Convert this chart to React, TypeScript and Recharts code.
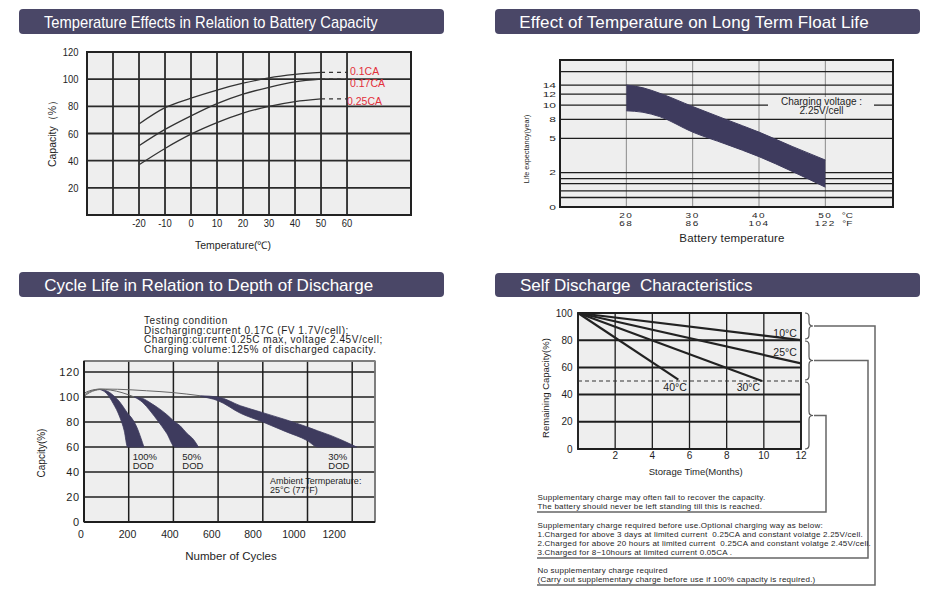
import React from "react";
import {
  ComposedChart,
  Line,
  Area,
  XAxis,
  YAxis,
  CartesianGrid,
  ReferenceArea,
  ReferenceLine,
} from "recharts";

const FONT = '"Liberation Sans", Arial, Helvetica, sans-serif';
const TITLE_BG = "#4a4767";
const BAND = "#3e3b5e";
const PLOT_BG = "#eeeeee";
const INK = "#1e1e1e";
const RED = "#e3303b";

// ---- Temperature effects in relation to battery capacity
const TEMP_C = [-20, -10, 0, 10, 20, 30, 40, 50];
const CAP_01CA = [67, 79, 86, 92, 97, 101, 103.5, 105];
const CAP_017CA = [51, 63, 73, 82, 89, 94, 98, 100];
const CAP_025CA = [37, 49, 59.5, 68, 75, 80, 83.5, 85.5];
const RATE_NAMES = ["0.1CA", "0.17CA", "0.25CA"];
const RATE_DASH_TO = 60;
const TEMP_TICKS = [-30, -20, -10, 0, 10, 20, 30, 40, 50, 60];
const CAP_TICKS = [0, 20, 40, 60, 80, 100, 120];

// ---- Effect of temperature on float life (printed y scale is not linear)
const FLOAT_TEMP_C = [20, 22.5, 25, 30, 35, 40, 45, 50];
const LIFE_UPPER = [14, 13.4, 12.2, 9.8, 8.0, 6.0, 4.3, 3.1];
const LIFE_LOWER = [9.2, 9.0, 8.4, 6.0, 4.5, 3.4, 2.1, 1.15];
const FLOAT_TICKS_C = [20, 30, 40, 50];
const FLOAT_TICKS_F = ["68", "86", "104", "122"];
const LIFE_LABELS = [0, 2, 5, 8, 10, 12, 14];
const LIFE_MINOR = [0.55, 0.93, 1.36, 1.65, 16];
const LIFE_KNOTS = [0, 2, 5, 8, 10, 12, 14, 16, 18];
const LIFE_KNOT_POS = [0, 34.4, 68.4, 87.4, 101.7, 112.7, 121.7, 135, 148.3];
const LIFE_TOP = 146.7;
const CHARGE_NOTE = ["Charging voltage :", "2.25V/cell"];

// ---- Cycle life vs depth of discharge
const DOD100_CYCLES = [72, 100, 130, 160, 180, 195, 210, 236, 255, 268];
const DOD100_LOW = [106, 103, 95, 84, 73, 60, 60, 60, 60, 60];
const DOD100_HIGH = [106, 105, 101.5, 96, 91, 87, 84, 76, 67, 60];
const DOD50_CYCLES = [225, 260, 300, 330, 370, 407, 430, 460, 490, 512];
const DOD50_LOW = [100, 96, 88, 81, 71, 60, 60, 60, 60, 60];
const DOD50_HIGH = [100, 99, 95, 91.5, 86, 80, 77, 71, 66, 60];
const DOD30_CYCLES = [520, 600, 700, 800, 900, 1000, 1045, 1100, 1160, 1220];
const DOD30_LOW = [100.5, 97, 87, 80, 72.5, 65, 60, 60, 60, 60];
const DOD30_HIGH = [101, 100, 93, 87.5, 82, 76, 73, 69.5, 65, 60];
const LEAD100_CYCLES = [0, 25, 50, 72];
const LEAD100_CAP = [100.5, 103.5, 105.3, 106];
const LEAD50_CYCLES = [0, 25, 50, 72, 120, 170, 225];
const LEAD50_CAP = [101.5, 104.3, 105.7, 106.2, 105.5, 103.5, 100];
const LEAD30_CYCLES = [0, 25, 50, 72, 150, 280, 400, 520];
const LEAD30_CAP = [103, 105, 106, 106.4, 106.2, 105, 103.5, 101];
const CYCLE_TICKS = [0, 200, 400, 600, 800, 1000, 1200];
const CYCLE_CAP_TICKS = [0, 20, 40, 60, 80, 100, 120];
const DOD_NAMES = ["100%", "50%", "30%"];
const TEST_NOTES = [
  "Testing condition",
  "Discharging:current 0.17C (FV 1.7V/cell);",
  "Charging:current 0.25C max, voltage 2.45V/cell;",
  "Charging volume:125% of discharged capacity.",
];

// ---- Self discharge
const SD_NAMES = ["10°C", "25°C", "30°C", "40°C"];
const SD_START = 100;
const SD_END_MONTH = [12, 12, 9.9, 5.4];
const SD_END_CAP = [80, 63, 50, 51];
const MONTH_TICKS = [0, 2, 4, 6, 8, 10, 12];
const SD_CAP_TICKS = [0, 20, 40, 60, 80, 100];
const NOTE_A = [
  "Supplementary charge may often fail to recover the capacity.",
  "The battery should never be left standing till this is reached.",
];
const NOTE_B = [
  "Supplementary charge required before use.Optional charging way as below:",
  "1.Charged for above 3 days at limited current  0.25CA and constant volatge 2.25V/cell.",
  "2.Charged for above 20 hours at limited current  0.25CA and constant volatge 2.45V/cell.",
  "3.Charged for 8~10hours at limited current 0.05CA .",
];
const NOTE_C = [
  "No supplementary charge required",
  "(Carry out supplementary charge before use if 100% capacity is required.)",
];

function lifeToAxis(years: number) {
  for (let i = 1; i < LIFE_KNOTS.length; i++) {
    if (years <= LIFE_KNOTS[i]) {
      const t = (years - LIFE_KNOTS[i - 1]) / (LIFE_KNOTS[i] - LIFE_KNOTS[i - 1]);
      return LIFE_KNOT_POS[i - 1] + t * (LIFE_KNOT_POS[i] - LIFE_KNOT_POS[i - 1]);
    }
  }
  return LIFE_KNOT_POS[LIFE_KNOT_POS.length - 1];
}

const points = (xs: number[], ys: number[]) => xs.map((x, i) => ({ x, y: ys[i] }));
const rangePoints = (xs: number[], lo: number[], hi: number[]) =>
  xs.map((x, i) => ({ x, r: [lo[i], hi[i]] }));

type TickOpts = {
  x?: number;
  y?: number;
  payload?: { value: number };
  textAnchor?: string;
  side?: "x" | "y";
  size?: number;
  squeeze?: number;
  squeezeY?: number;
  spacing?: number;
  fmt?: (v: number) => string;
  shift?: (v: number) => number;
};

function AxisTick({
  x = 0,
  y = 0,
  payload,
  textAnchor = "middle",
  side = "x",
  size = 11,
  squeeze = 1,
  squeezeY = 1,
  spacing = 0,
  fmt,
  shift,
}: TickOpts) {
  const v = payload ? payload.value : 0;
  const label = fmt ? fmt(v) : String(v);
  if (!label) return null;
  const dx = shift ? shift(v) : 0;
  return (
    <g transform={`translate(${x + dx},${y}) scale(${squeeze},${squeezeY})`}>
      <text
        x={0}
        y={0}
        dy={side === "x" ? "0.71em" : "0.355em"}
        textAnchor={textAnchor}
        fontSize={size}
        fill={INK}
        letterSpacing={spacing}
      >
        {label}
      </text>
    </g>
  );
}

// two-line tick (°C over °F), vertically squeezed like the printed sheet
function FloatTempTick({ x = 0, y = 0, payload }: TickOpts) {
  const i = payload ? FLOAT_TICKS_C.indexOf(payload.value) : -1;
  if (i < 0) return null;
  const last = i === FLOAT_TICKS_C.length - 1;
  const sy = 0.75;
  const gap = 8.8 / sy;
  return (
    <g transform={`translate(${x},${y}) scale(1,${sy})`} fontSize={10} fill={INK}>
      <text x={0} y={0} dy="0.71em" textAnchor="middle" letterSpacing={1.5}>
        {FLOAT_TICKS_C[i]}
      </text>
      <text x={0} y={gap} dy="0.71em" textAnchor="middle" letterSpacing={1.5}>
        {FLOAT_TICKS_F[i]}
      </text>
      {last && (
        <text x={22} y={0} dy="0.71em" textAnchor="middle">
          °C
        </text>
      )}
      {last && (
        <text x={22} y={gap} dy="0.71em" textAnchor="middle">
          °F
        </text>
      )}
    </g>
  );
}

function Txt({
  x,
  y,
  children,
  size = 10,
  color = INK,
  align = "left",
  rotate = false,
  spacing = 0,
}: {
  x: number;
  y: number;
  children: React.ReactNode;
  size?: number;
  color?: string;
  align?: "left" | "center";
  rotate?: boolean;
  spacing?: number;
}) {
  const tx = align === "center" || rotate ? "-50%" : "0";
  const transform = `translate(${tx}, -50%)${rotate ? " rotate(-90deg)" : ""}`;
  return (
    <div
      style={{
        position: "absolute",
        left: x,
        top: y,
        transform,
        fontSize: size,
        lineHeight: 0.85,
        whiteSpace: "pre",
        color,
        letterSpacing: spacing,
      }}
    >
      {children}
    </div>
  );
}

// several lines in one text block; y is the centre of the first line
function Block({
  x,
  y,
  lines,
  size,
  step,
  spacing = 0,
  center = false,
}: {
  x: number;
  y: number;
  lines: string[];
  size: number;
  step: number;
  spacing?: number;
  center?: boolean;
}) {
  return (
    <div
      style={{
        position: "absolute",
        left: x,
        top: y - step / 2,
        transform: center ? "translateX(-50%)" : undefined,
        textAlign: center ? "center" : "left",
        fontSize: size,
        lineHeight: `${step}px`,
        whiteSpace: "pre",
        color: INK,
        letterSpacing: spacing,
      }}
    >
      {lines.join("\n")}
    </div>
  );
}

function TitleBar({
  x,
  y,
  w,
  h,
  pad,
  text,
  squeeze = 1,
  spacing = 0,
}: {
  x: number;
  y: number;
  w: number;
  h: number;
  pad: number;
  text: string;
  squeeze?: number;
  spacing?: number;
}) {
  return (
    <div
      style={{
        position: "absolute",
        left: x,
        top: y,
        width: w,
        height: h,
        background: TITLE_BG,
        borderRadius: 4,
      }}
    >
      <div
        style={{
          position: "absolute",
          left: pad,
          top: "50%",
          transform: `translateY(-50%) scaleX(${squeeze})`,
          transformOrigin: "left center",
          color: "#fff",
          fontSize: 17,
          lineHeight: 1,
          whiteSpace: "pre",
          letterSpacing: spacing,
        }}
      >
        {text}
      </div>
    </div>
  );
}

function TempCapacityChart() {
  const rates = [CAP_01CA, CAP_017CA, CAP_025CA];
  const last = TEMP_C.length - 1;
  return (
    <>
      <TitleBar
        x={19}
        y={9}
        w={425}
        h={25}
        pad={25}
        squeeze={0.866}
        text="Temperature Effects in Relation to Battery Capacity"
      />
      <div style={{ position: "absolute", left: 20, top: 40 }}>
        <ComposedChart width={400} height={220} margin={{ top: 12, right: 9, bottom: 0, left: 0 }}>
          <CartesianGrid stroke="#2a2a2a" strokeWidth={1.8} fill={PLOT_BG} fillOpacity={1} />
          <XAxis
            type="number"
            dataKey="x"
            domain={[-40, 84.6]}
            ticks={TEMP_TICKS}
            interval={0}
            height={45}
            axisLine={false}
            tickLine={false}
            tickSize={0}
            tickMargin={3.6}
            tick={<AxisTick size={11.5} squeeze={0.82} fmt={(v) => (v === -30 ? "" : String(v))} />}
          />
          <YAxis
            type="number"
            domain={[0, 120]}
            ticks={CAP_TICKS}
            interval={0}
            width={67}
            axisLine={false}
            tickLine={false}
            tickSize={0}
            tickMargin={8.5}
            tick={<AxisTick side="y" size={11.5} squeeze={0.82} fmt={(v) => (v === 0 ? "" : String(v))} />}
          />
          {rates.map((vals, i) => (
            <Line
              key={RATE_NAMES[i]}
              data={points(TEMP_C, vals)}
              dataKey="y"
              type="monotone"
              stroke="#333"
              strokeWidth={1.3}
              dot={false}
              isAnimationActive={false}
            />
          ))}
          {rates.map((vals, i) => (
            <Line
              key={RATE_NAMES[i] + "-dash"}
              data={points([TEMP_C[last], RATE_DASH_TO], [vals[last], vals[last]])}
              dataKey="y"
              stroke="#333"
              strokeWidth={1.3}
              strokeDasharray="4 4"
              dot={false}
              isAnimationActive={false}
            />
          ))}
          <ReferenceArea
            x1={-40}
            x2={84.6}
            y1={0}
            y2={120}
            fill="none"
            stroke="#222"
            strokeWidth={2}
            ifOverflow="visible"
          />
        </ComposedChart>
      </div>
      <Txt x={52} y={131} size={10.5} rotate>
        Capacity（%）
      </Txt>
      <Txt x={233} y={245} size={10.5} align="center">
        Temperature(℃)
      </Txt>
      <Txt x={350} y={70.7} size={10.5} color={RED}>
        {RATE_NAMES[0]}
      </Txt>
      <Txt x={350} y={82.7} size={10.5} color={RED}>
        {RATE_NAMES[1]}
      </Txt>
      <Txt x={347} y={101} size={10.5} color={RED}>
        {RATE_NAMES[2]}
      </Txt>
    </>
  );
}

function FloatLifeChart() {
  const band = FLOAT_TEMP_C.map((t, i) => ({
    x: t,
    r: [lifeToAxis(LIFE_LOWER[i]), lifeToAxis(LIFE_UPPER[i])],
  }));
  const yTicks = [...LIFE_LABELS, ...LIFE_MINOR].map(lifeToAxis);
  const yLabel = (p: number) => {
    const hit = LIFE_LABELS.find((v) => Math.abs(lifeToAxis(v) - p) < 0.01);
    return hit === undefined ? "" : String(hit);
  };
  return (
    <>
      <TitleBar
        x={495}
        y={9}
        w={425}
        h={25}
        pad={24.3}
        spacing={0.1}
        text="Effect of Temperature on Long Term Float Life"
      />
      <div style={{ position: "absolute", left: 480, top: 50 }}>
        <ComposedChart width={425} height={200} margin={{ top: 10, right: 12, bottom: 0, left: 0 }}>
          <CartesianGrid horizontal={false} stroke="#8a8a8a" strokeWidth={1} fill={PLOT_BG} fillOpacity={1} />
          <CartesianGrid vertical={false} stroke={INK} strokeWidth={1.3} />
          <XAxis
            type="number"
            dataKey="x"
            domain={[10, 60.2]}
            ticks={FLOAT_TICKS_C}
            interval={0}
            height={43}
            axisLine={false}
            tickLine={false}
            tickSize={0}
            tickMargin={5.3}
            tick={<FloatTempTick />}
          />
          <YAxis
            type="number"
            domain={[0, LIFE_TOP]}
            ticks={yTicks}
            interval={0}
            width={80}
            axisLine={false}
            tickLine={false}
            tickSize={0}
            tickMargin={4}
            tick={<AxisTick side="y" size={12} squeezeY={0.62} fmt={yLabel} />}
          />
          <Area
            data={band}
            dataKey="r"
            type="monotone"
            fill={BAND}
            fillOpacity={1}
            stroke={BAND}
            strokeWidth={1}
            isAnimationActive={false}
          />
          <ReferenceArea
            x1={10}
            x2={60.2}
            y1={0}
            y2={LIFE_TOP}
            fill="none"
            stroke={INK}
            strokeWidth={2}
            ifOverflow="visible"
          />
        </ComposedChart>
      </div>
      <div
        style={{ position: "absolute", left: 768, top: 97, width: 106, height: 17, background: PLOT_BG }}
      />
      <Block x={821.5} y={101} lines={CHARGE_NOTE} size={10} step={9} center />
      <Txt x={527} y={149} size={7.2} rotate>
        Life expectancy(year)
      </Txt>
      <Txt x={732} y={239} size={11.5} align="center" spacing={0.2}>
        Battery temperature
      </Txt>
    </>
  );
}

function CycleLifeChart() {
  // printed tick labels drift left of their grid lines toward the right end
  const cycleShift = (v: number) => -18 * Math.pow(v / 1200, 1.5) - (v === 0 ? 3 : 0);
  return (
    <>
      <TitleBar x={19} y={272} w={425} h={25} pad={25.3} text="Cycle Life in Relation to Depth of Discharge" />
      <Block x={144} y={321} lines={TEST_NOTES} size={10} step={9.6} spacing={0.55} />
      <div style={{ position: "absolute", left: 20, top: 355 }}>
        <ComposedChart width={370} height={220} margin={{ top: 6, right: 15, bottom: 0, left: 0 }}>
          <CartesianGrid stroke={INK} strokeWidth={1.5} fill={PLOT_BG} fillOpacity={1} />
          <ReferenceArea
            x1={0}
            x2={1302}
            y1={0}
            y2={128.8}
            fill="none"
            stroke="#8c8c8c"
            strokeWidth={1.5}
            ifOverflow="visible"
          />
          <XAxis
            type="number"
            dataKey="x"
            domain={[0, 1302]}
            ticks={CYCLE_TICKS}
            interval={0}
            height={53}
            axisLine={{ stroke: INK, strokeWidth: 2 }}
            tickLine={false}
            tickSize={0}
            tickMargin={8.2}
            tick={<AxisTick size={10.5} shift={cycleShift} />}
          />
          <YAxis
            type="number"
            domain={[0, 128.8]}
            ticks={CYCLE_CAP_TICKS}
            interval={0}
            width={64}
            axisLine={{ stroke: INK, strokeWidth: 2 }}
            tickLine={false}
            tickSize={0}
            tickMargin={4}
            tick={<AxisTick side="y" size={11} spacing={0.8} />}
          />
          <Area
            data={rangePoints(DOD100_CYCLES, DOD100_LOW, DOD100_HIGH)}
            dataKey="r"
            type="monotone"
            fill={BAND}
            fillOpacity={1}
            stroke={BAND}
            strokeWidth={0.8}
            isAnimationActive={false}
          />
          <Area
            data={rangePoints(DOD50_CYCLES, DOD50_LOW, DOD50_HIGH)}
            dataKey="r"
            type="monotone"
            fill={BAND}
            fillOpacity={1}
            stroke={BAND}
            strokeWidth={0.8}
            isAnimationActive={false}
          />
          <Area
            data={rangePoints(DOD30_CYCLES, DOD30_LOW, DOD30_HIGH)}
            dataKey="r"
            type="monotone"
            fill={BAND}
            fillOpacity={1}
            stroke={BAND}
            strokeWidth={0.8}
            isAnimationActive={false}
          />
          <Line data={points(LEAD100_CYCLES, LEAD100_CAP)} dataKey="y" type="monotone" stroke="#666" strokeWidth={1} dot={false} isAnimationActive={false} />
          <Line data={points(LEAD50_CYCLES, LEAD50_CAP)} dataKey="y" type="monotone" stroke="#666" strokeWidth={1} dot={false} isAnimationActive={false} />
          <Line data={points(LEAD30_CYCLES, LEAD30_CAP)} dataKey="y" type="monotone" stroke="#666" strokeWidth={1} dot={false} isAnimationActive={false} />
        </ComposedChart>
      </div>
      <Txt x={42} y={453} size={10} rotate>
        Capcity(%)
      </Txt>
      <Txt x={231} y={557} size={11.5} align="center">
        Number of Cycles
      </Txt>
      <Block x={132.7} y={456.7} lines={[DOD_NAMES[0], "DOD"]} size={9.5} step={9} />
      <Block x={182.3} y={456.7} lines={[DOD_NAMES[1], "DOD"]} size={9.5} step={9} />
      <Block x={328.3} y={456.7} lines={[DOD_NAMES[2], "DOD"]} size={9.5} step={9} />
      <Block x={270} y={481} lines={["Ambient Termperature:", "25°C (77°F)"]} size={9} step={9} />
    </>
  );
}

function bracePath(x: number, y1: number, y2: number, w = 8) {
  const ym = (y1 + y2) / 2;
  const xm = x + w / 2;
  const r = Math.min(4, (y2 - y1) / 4);
  return `M${x},${y1} Q${xm},${y1} ${xm},${y1 + r} L${xm},${ym - r} Q${xm},${ym} ${x + w},${ym} Q${xm},${ym} ${xm},${ym + r} L${xm},${y2 - r} Q${xm},${y2} ${x},${y2}`;
}

function SelfDischargeChart() {
  return (
    <>
      <TitleBar x={495} y={273} w={425} h={24} pad={25} text="Self Discharge  Characteristics" />
      <div style={{ position: "absolute", left: 520, top: 305 }}>
        <ComposedChart width={300} height={180} margin={{ top: 8, right: 19, bottom: 0, left: 0 }}>
          <CartesianGrid horizontal={false} stroke={INK} strokeWidth={1.3} fill={PLOT_BG} fillOpacity={1} />
          <CartesianGrid vertical={false} stroke={INK} strokeWidth={2} />
          <XAxis
            type="number"
            dataKey="x"
            domain={[0, 12]}
            ticks={MONTH_TICKS}
            interval={0}
            height={36}
            axisLine={false}
            tickLine={false}
            tickSize={0}
            tickMargin={2.4}
            tick={<AxisTick size={10} fmt={(v) => (v === 0 ? "" : String(v))} />}
          />
          <YAxis
            type="number"
            domain={[0, 100]}
            ticks={SD_CAP_TICKS}
            interval={0}
            width={58}
            axisLine={false}
            tickLine={false}
            tickSize={0}
            tickMargin={5.5}
            tick={<AxisTick side="y" size={10} />}
          />
          <ReferenceLine y={50} stroke="#333" strokeDasharray="4 3" strokeWidth={1.2} />
          {SD_NAMES.map((name, i) => (
            <Line
              key={name}
              data={points([0, SD_END_MONTH[i]], [SD_START, SD_END_CAP[i]])}
              dataKey="y"
              stroke="#222"
              strokeWidth={2.2}
              dot={false}
              isAnimationActive={false}
            />
          ))}
          <ReferenceArea
            x1={0}
            x2={12}
            y1={0}
            y2={100}
            fill="none"
            stroke={INK}
            strokeWidth={1.8}
            ifOverflow="visible"
          />
        </ComposedChart>
      </div>
      <Txt x={773.3} y={333.3} size={10.5}>{SD_NAMES[0]}</Txt>
      <Txt x={773.3} y={352.3} size={10.5}>{SD_NAMES[1]}</Txt>
      <Txt x={736.7} y={387.3} size={10.5}>{SD_NAMES[2]}</Txt>
      <Txt x={663.3} y={387.3} size={10.5}>{SD_NAMES[3]}</Txt>
      <Txt x={546} y={388} size={9.5} rotate>
        Remaining Capacity(%)
      </Txt>
      <Txt x={695.7} y={471.7} size={9.5} align="center">
        Storage Time(Months)
      </Txt>
      <svg
        width={925}
        height={595}
        style={{ position: "absolute", left: 0, top: 0, pointerEvents: "none" }}
      >
        <g fill="none" stroke="#555" strokeWidth={1.2}>
          <path d={bracePath(805, 313, 339)} />
          <path d={bracePath(805, 341, 380)} />
          <path d={bracePath(805, 382, 449)} />
        </g>
        <g fill="none" stroke="#666" strokeWidth={1.5}>
          <polyline points="814,326 875,326 875,585 537,585" />
          <polyline points="814,360.5 868,360.5 868,558 537,558" />
          <polyline points="814,415.5 826,415.5 826,512 537,512" />
        </g>
      </svg>
      <Block x={537.5} y={497.7} lines={NOTE_A} size={8} step={9} spacing={0.22} />
      <Block x={537.5} y={525.7} lines={NOTE_B} size={8} step={9} spacing={0.22} />
      <Block x={537.5} y={570} lines={NOTE_C} size={8} step={9} spacing={0.22} />
    </>
  );
}

export default function App() {
  return (
    <div
      style={{
        position: "absolute",
        left: 0,
        top: 0,
        width: 925,
        height: 595,
        background: "#fff",
        fontFamily: FONT,
        overflow: "hidden",
      }}
    >
      <TempCapacityChart />
      <FloatLifeChart />
      <CycleLifeChart />
      <SelfDischargeChart />
    </div>
  );
}
